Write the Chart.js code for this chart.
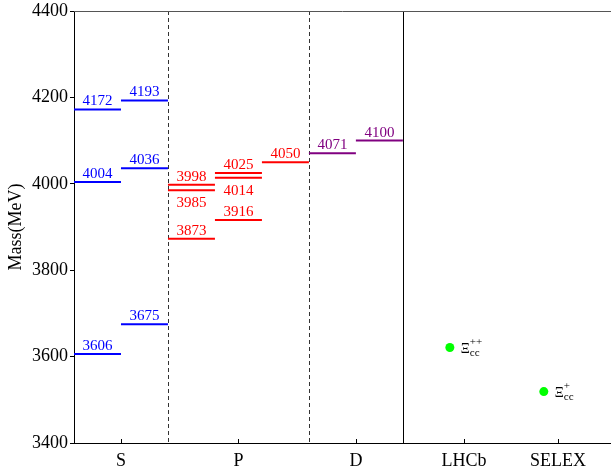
<!DOCTYPE html>
<html>
<head>
<meta charset="utf-8">
<script src="https://cdn.jsdelivr.net/npm/chart.js@4/dist/chart.umd.min.js"></script>
<style>
  html, body { margin: 0; padding: 0; background: #fff; }
  canvas { display: block; }
</style>
</head>
<body>
<canvas id="massChart" width="611" height="473"></canvas>
<script>
"use strict";

// predicted masses, one list per column of levels (MeV)
var sCol1 = [3606, 4004, 4172];
var sCol2 = [3675, 4036, 4193];
var pCol1 = [3873, 3985, 3998];
var pCol2 = [3916, 4014, 4025];
var pCol3 = [4050];
var dCol1 = [4071];
var dCol2 = [4100];
var columnWave = ['S', 'S', 'P', 'P', 'P', 'D', 'D'];
var labelsBelow = [3985, 4014];

// measured states
var expNames = ['LHCb', 'SELEX'];
var expX = [8, 10];
var expMasses = [3621, 3519];
var expCharge = ['++', '+'];

// x axis
var tickPos = [1, 3.5, 6, 8.3, 10.3];
var tickNames = ['S', 'P', 'D', 'LHCb', 'SELEX'];
var dashedDividers = [2, 5];
var solidDividers = [7];

var waveColor = { S: 'rgb(0,0,255)', P: 'rgb(255,0,0)', D: 'rgb(128,0,128)' };
var serif = "'Liberation Serif', 'DejaVu Serif', serif";
Chart.defaults.font.family = serif;
Chart.defaults.color = '#000';

var columns = [sCol1, sCol2, pCol1, pCol2, pCol3, dCol1, dCol2];
var levels = [];
columns.forEach(function(col, c) {
    col.forEach(function(m) {
        levels.push({ mass: m, x0: c, x1: c + 1, wave: columnWave[c] });
    });
});

var datasets = levels.map(function(l) {
    return {
        type: 'line',
        data: [{ x: l.x0, y: l.mass }, { x: l.x1, y: l.mass }],
        borderColor: waveColor[l.wave],
        borderWidth: 2,
        pointRadius: 0,
        fill: false
    };
});

datasets.push({
    type: 'scatter',
    data: expX.map(function(x, i) { return { x: x, y: expMasses[i] }; }),
    backgroundColor: 'rgb(0,255,0)',
    borderWidth: 0,
    pointRadius: 4.5
});

//Draws dividers, top frame, inward x ticks and all the text next to the marks
var decorPlugin = {
    id: 'decor',
    beforeDatasetsDraw: function(chart) {
        var ctx = chart.ctx, a = chart.chartArea, xs = chart.scales.x;
        ctx.save();
        ctx.lineWidth = 1;
        ctx.strokeStyle = '#333';
        ctx.setLineDash([4, 3]);
        dashedDividers.forEach(function(v) {
            var px = Math.round(xs.getPixelForValue(v)) + 0.5;
            ctx.beginPath(); ctx.moveTo(px, a.top); ctx.lineTo(px, a.bottom); ctx.stroke();
        });
        ctx.setLineDash([]);
        ctx.strokeStyle = '#000';
        solidDividers.forEach(function(v) {
            var px = Math.round(xs.getPixelForValue(v)) + 0.5;
            ctx.beginPath(); ctx.moveTo(px, a.top); ctx.lineTo(px, a.bottom); ctx.stroke();
        });
        ctx.strokeStyle = '#555';
        ctx.beginPath(); ctx.moveTo(a.left, a.top + 0.5); ctx.lineTo(a.right, a.top + 0.5); ctx.stroke();
        ctx.strokeStyle = '#000';
        tickPos.forEach(function(v) {
            var px = Math.round(xs.getPixelForValue(v)) + 0.5;
            ctx.beginPath(); ctx.moveTo(px, a.bottom); ctx.lineTo(px, a.bottom - 4); ctx.stroke();
        });
        ctx.restore();
    },
    afterDatasetsDraw: function(chart) {
        var ctx = chart.ctx;
        ctx.save();
        ctx.textAlign = 'center';
        ctx.textBaseline = 'alphabetic';
        ctx.font = '15px ' + serif;
        levels.forEach(function(l, i) {
            var pts = chart.getDatasetMeta(i).data;
            var cx = (pts[0].x + pts[1].x) / 2;
            var y = pts[0].y;
            ctx.fillStyle = waveColor[l.wave];
            if (labelsBelow.indexOf(l.mass) >= 0) {
                ctx.fillText(String(l.mass), cx, y + 17);
            } else {
                ctx.fillText(String(l.mass), cx, y - 4);
            }
        });
        var meta = chart.getDatasetMeta(levels.length);
        ctx.textAlign = 'left';
        ctx.fillStyle = '#000';
        meta.data.forEach(function(p, i) {
            var x = p.x + 11;
            ctx.font = '14px ' + serif;
            ctx.fillText('\u039E', x, p.y + 5);
            var w = ctx.measureText('\u039E').width;
            ctx.font = '11px ' + serif;
            ctx.fillText(expCharge[i], x + w, p.y - 2.5);
            ctx.fillText('cc', x + w, p.y + 8.5);
        });
        ctx.restore();
    }
};

var massChart = new Chart(document.getElementById('massChart'), {
    type: 'line',
    data: { datasets: datasets },
    plugins: [decorPlugin],
    options: {
        responsive: false,
        animation: false,
        events: [],
        layout: { autoPadding: false, padding: { top: 11, left: 0, right: 0, bottom: 0 } },
        plugins: { legend: { display: false }, tooltip: { enabled: false } },
        scales: {
            x: {
                type: 'linear',
                min: 0,
                max: 11.43,
                afterBuildTicks: function(s) {
                    s.ticks = tickPos.map(function(v) { return { value: v }; });
                },
                afterFit: function(s) {
                    s.height = 30;
                    s.paddingLeft = 0;
                    s.paddingRight = 0;
                },
                ticks: {
                    autoSkip: false,
                    maxRotation: 0,
                    padding: 7,
                    font: { size: 18 },
                    callback: function(v, i) { return tickNames[i]; }
                },
                grid: { drawOnChartArea: false, drawTicks: false },
                border: { color: '#000', width: 1 }
            },
            y: {
                min: 3400,
                max: 4400,
                afterFit: function(s) {
                    s.width = 74;
                    s.paddingTop = 0;
                    s.paddingBottom = 0;
                },
                ticks: {
                    stepSize: 200,
                    padding: 2,
                    font: { size: 18 },
                    callback: function(v) { return String(v); }
                },
                grid: { drawOnChartArea: false, drawTicks: true, tickLength: 4, color: '#000' },
                border: { color: '#000', width: 1 },
                title: {
                    display: true,
                    text: 'Mass(MeV)',
                    font: { size: 18 },
                    padding: { top: 5, bottom: 0 }
                }
            }
        }
    }
});
</script>
</body>
</html>
